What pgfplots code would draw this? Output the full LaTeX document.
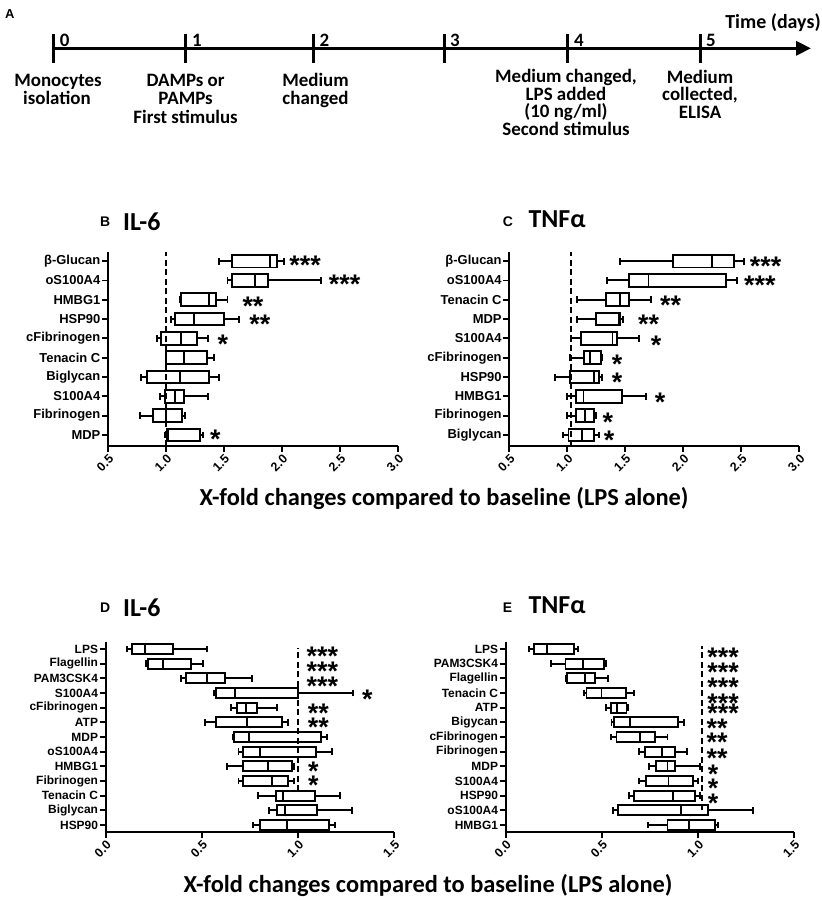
\documentclass[border=0pt]{standalone}
\usepackage{pgfplots}
\pgfplotsset{compat=1.18}
\usepgfplotslibrary{statistics}
\usetikzlibrary{arrows.meta}
\usepackage{fontspec}
\setmainfont{Liberation Sans}
\newfontfamily\calib{Carlito}

% one horizontal box: position, low whisker, Q1, median, Q3, high whisker
\newcommand{\bx}[6]{\addplot[bp, boxplot prepared={draw position=#1,
  lower whisker=#2, lower quartile=#3, median=#4,
  upper quartile=#5, upper whisker=#6}] coordinates {};}

\pgfplotsset{
  gp/.style={scale only axis, clip=false, anchor=south west,
    axis x line*=bottom, axis y line*=left,
    axis line style={line width=2bp, -},
    tick style={line width=1.8bp, black},
    tick align=outside, major tick length=6bp,
    yticklabel style={font=\bfseries\fontsize{13}{13}\selectfont, inner sep=1.5bp},
    xticklabel style={font=\bfseries\fontsize{12.5}{12.5}\selectfont, rotate=45,
      anchor=north east, inner sep=1bp},
    boxplot/draw direction=x,
    boxplot/every box/.style={draw=black, line width=1.9bp},
    boxplot/every whisker/.style={draw=black, line width=1.9bp},
    boxplot/every median/.style={draw=black, line width=1.9bp}},
  bp/.style={black, solid, line width=1.9bp},
  ref/.style={black, line width=2bp, dash pattern=on 6bp off 3.5bp},
}
\tikzset{star/.style={font=\bfseries\fontsize{27}{27}\selectfont, anchor=base,
    yshift=-13.5bp, inner sep=0pt}}

\begin{document}
\begin{tikzpicture}
\path[use as bounding box] (0,0) rectangle (822bp,-901bp);

% ---------- A: timeline ----------
\begin{axis}[scale only axis, width=758bp, height=40bp, at={(53bp,-48.3bp)}, anchor=west,
  xmin=0, xmax=5.849, ymin=-1, ymax=1,
  axis x line=middle, axis y line=none,
  axis line style={line width=3.5bp, -{Triangle[length=15bp,width=14bp]}},
  xtick={0,1.023,2.013,3.019,3.968,5}, xticklabels={}, ytick=\empty,
  tick style={line width=3bp, black}, major tick length=29bp, tick align=center]
\addplot[draw=none] coordinates {(0,0) (5,0)};
\end{axis}
\node[anchor=base west, font=\bfseries\fontsize{13}{13}\selectfont, inner sep=0] at (5bp,-18.3bp) {A};
\begin{scope}[every node/.style={anchor=base, inner sep=0, font=\calib\bfseries\fontsize{19}{19}\selectfont}]
\node at (64.7bp,-46.7bp) {0};
\node at (197bp,-46.7bp) {1};
\node at (324.5bp,-46.7bp) {2};
\node at (455bp,-46.7bp) {3};
\node at (579bp,-46.7bp) {4};
\node at (711bp,-46.7bp) {5};
\node[font=\calib\bfseries\fontsize{20}{20}\selectfont] at (773bp,-28.3bp) {Time (days)};
\end{scope}
\begin{scope}[every node/.style={anchor=base, inner sep=0, font=\calib\bfseries\fontsize{19}{19}\selectfont}]
\node at (58bp,-86bp) {Monocytes};
\node at (57bp,-104bp) {isolation};
\node at (185.6bp,-86bp) {DAMPs or};
\node at (185.6bp,-104bp) {PAMPs};
\node at (185.6bp,-123bp) {First stimulus};
\node at (315.5bp,-86bp) {Medium};
\node at (315.5bp,-104bp) {changed};
\node at (566bp,-82.7bp) {Medium changed,};
\node at (566bp,-100bp) {LPS added};
\node at (566bp,-117bp) {(10 ng/ml)};
\node at (566bp,-135bp) {Second stimulus};
\node at (700bp,-83bp) {Medium};
\node at (700bp,-100bp) {collected,};
\node at (700bp,-118bp) {ELISA};
\end{scope}

% ---------- titles ----------
\begin{scope}[every node/.style={anchor=base west, inner sep=0}]
\node[font=\bfseries\fontsize{14}{14}\selectfont] at (100bp,-226.7bp) {B};
\node[font=\calib\bfseries\fontsize{26}{26}\selectfont] at (123bp,-230bp) {IL-6};
\node[font=\bfseries\fontsize{14}{14}\selectfont] at (502.7bp,-226.7bp) {C};
\node[font=\calib\bfseries\fontsize{26}{26}\selectfont] at (528.3bp,-227.3bp) {TNFα};
\node[font=\bfseries\fontsize{14}{14}\selectfont] at (100bp,-612bp) {D};
\node[font=\calib\bfseries\fontsize{26}{26}\selectfont] at (123bp,-616bp) {IL-6};
\node[font=\bfseries\fontsize{14}{14}\selectfont] at (502.7bp,-612bp) {E};
\node[font=\calib\bfseries\fontsize{26}{26}\selectfont] at (528.3bp,-613bp) {TNFα};
\end{scope}
\node[font=\calib\bfseries\fontsize{24.5}{24.5}\selectfont, anchor=base] at (444bp,-505bp) {X-fold changes compared to baseline (LPS alone)};
\node[font=\calib\bfseries\fontsize{24.5}{24.5}\selectfont, anchor=base] at (428bp,-892bp) {X-fold changes compared to baseline (LPS alone)};

% ---------- B: IL-6 ----------
\begin{axis}[gp, at={(108bp,-446bp)}, width=290bp, height=194bp,
  xmin=0.5, xmax=3, ymin=-0.57, ymax=9.47,
  xtick={0.5,1,1.5,2,2.5,3}, xticklabels={0.5,1.0,1.5,2.0,2.5,3.0},
  ytick={0,...,9},
  yticklabels={MDP,Fibrinogen,S100A4,Biglycan,Tenacin C,cFibrinogen,HSP90,HMBG1,oS100A4,β-Glucan},
  boxplot/box extend=0.66, boxplot/whisker extend=0.36]
\addplot[ref] coordinates {(1,-0.57) (1,9.47)};
\bx{9}{1.457}{1.57}{1.90}{1.955}{2.02}
\bx{8}{1.53}{1.57}{1.77}{1.88}{2.34}
\bx{7}{1.12}{1.13}{1.37}{1.43}{1.53}
\bx{6}{1.04}{1.08}{1.24}{1.50}{1.63}
\bx{5}{0.92}{0.96}{1.13}{1.27}{1.36}
\bx{4}{1.0}{1.0}{1.155}{1.35}{1.41}
\bx{3}{0.785}{0.84}{1.12}{1.37}{1.46}
\bx{2}{0.95}{0.99}{1.08}{1.155}{1.365}
\bx{1}{0.776}{0.89}{1.0}{1.135}{1.16}
\bx{0}{0.99}{1.01}{1.02}{1.29}{1.32}
\node[star] at (axis cs:2.20,9) {***};
\node[star] at (axis cs:2.54,8) {***};
\node[star] at (axis cs:1.75,6.9) {**};
\node[star] at (axis cs:1.81,5.95) {**};
\node[star] at (axis cs:1.49,4.9) {*};
\node[star] at (axis cs:1.425,0) {*};
\end{axis}

% ---------- C: TNFa ----------
\begin{axis}[gp, at={(509.3bp,-446bp)}, width=290bp, height=194bp,
  xmin=0.5, xmax=3, ymin=-0.57, ymax=9.47,
  xtick={0.5,1,1.5,2,2.5,3}, xticklabels={0.5,1.0,1.5,2.0,2.5,3.0},
  ytick={0,...,9},
  yticklabels={Biglycan,Fibrinogen,HMBG1,HSP90,cFibrinogen,S100A4,MDP,Tenacin C,oS100A4,β-Glucan},
  boxplot/box extend=0.66, boxplot/whisker extend=0.36]
\addplot[ref] coordinates {(1.03,-0.57) (1.03,9.47)};
\bx{9}{1.454}{1.914}{2.245}{2.44}{2.52}
\bx{8}{1.34}{1.53}{1.70}{2.37}{2.46}
\bx{7}{1.08}{1.33}{1.454}{1.53}{1.72}
\bx{6}{1.086}{1.245}{1.446}{1.454}{1.48}
\bx{5}{1.03}{1.115}{1.39}{1.425}{1.615}
\bx{4}{1.02}{1.145}{1.196}{1.29}{1.30}
\bx{3}{0.894}{1.02}{1.23}{1.27}{1.30}
\bx{2}{1.0}{1.075}{1.14}{1.475}{1.675}
\bx{1}{1.0}{1.075}{1.15}{1.23}{1.25}
\bx{0}{0.965}{1.01}{1.125}{1.23}{1.27}
\node[star] at (axis cs:2.71,8.95) {***};
\node[star] at (axis cs:2.66,7.95) {***};
\node[star] at (axis cs:1.89,6.95) {**};
\node[star] at (axis cs:1.70,5.93) {**};
\node[star] at (axis cs:1.765,4.88) {*};
\node[star] at (axis cs:1.43,3.9) {*};
\node[star] at (axis cs:1.43,2.95) {*};
\node[star] at (axis cs:1.80,1.9) {*};
\node[star] at (axis cs:1.35,0.88) {*};
\node[star] at (axis cs:1.36,-0.05) {*};
\end{axis}

% ---------- D: IL-6 ----------
\begin{axis}[gp, at={(105.7bp,-832bp)}, width=288.6bp, height=190.3bp,
  xmin=0, xmax=1.5, ymin=-0.48, ymax=12.5,
  xtick={0,0.5,1,1.5}, xticklabels={0.0,0.5,1.0,1.5},
  ytick={0,...,12},
  yticklabels={HSP90,Biglycan,Tenacin C,Fibrinogen,HMBG1,oS100A4,MDP,ATP,cFibrinogen,S100A4,PAM3CSK4,Flagellin,LPS},
  yticklabel style={font=\bfseries\fontsize{12}{12}\selectfont},
  boxplot/box extend=0.68, boxplot/whisker extend=0.45]
\addplot[ref] coordinates {(1,2.3) (1,12.07)};
\bx{12}{0.112}{0.135}{0.204}{0.348}{0.528}
\bx{11}{0.209}{0.222}{0.296}{0.442}{0.507}
\bx{10}{0.391}{0.416}{0.525}{0.62}{0.759}
\bx{9}{0.565}{0.572}{0.672}{0.998}{1.287}
\bx{8}{0.65}{0.684}{0.729}{0.785}{0.889}
\bx{7}{0.516}{0.573}{0.733}{0.915}{0.949}
\bx{6}{0.663}{0.668}{0.747}{1.119}{1.149}
\bx{5}{0.69}{0.715}{0.802}{1.091}{1.175}
\bx{4}{0.629}{0.712}{0.845}{0.967}{0.98}
\bx{3}{0.69}{0.715}{0.866}{0.946}{0.98}
\bx{2}{0.793}{0.887}{0.92}{1.088}{1.218}
\bx{1}{0.85}{0.889}{0.932}{1.097}{1.278}
\bx{0}{0.767}{0.802}{0.944}{1.162}{1.192}
\node[star] at (axis cs:1.126,11.79) {***};
\node[star] at (axis cs:1.126,10.77) {***};
\node[star] at (axis cs:1.126,9.75) {***};
\node[star] at (axis cs:1.36,8.86) {*};
\node[star] at (axis cs:1.105,7.9) {**};
\node[star] at (axis cs:1.105,6.95) {**};
\node[star] at (axis cs:1.079,3.97) {*};
\node[star] at (axis cs:1.079,2.98) {*};
\end{axis}

% ---------- E: TNFa ----------
\begin{axis}[gp, at={(505.7bp,-832bp)}, width=288.6bp, height=190.3bp,
  xmin=0, xmax=1.5, ymin=-0.48, ymax=12.5,
  xtick={0,0.5,1,1.5}, xticklabels={0.0,0.5,1.0,1.5},
  ytick={0,...,12},
  yticklabels={HMBG1,oS100A4,HSP90,S100A4,MDP,Fibrinogen,cFibrinogen,Bigycan,ATP,Tenacin C,Flagellin,PAM3CSK4,LPS},
  yticklabel style={font=\bfseries\fontsize{12}{12}\selectfont},
  boxplot/box extend=0.68, boxplot/whisker extend=0.45]
\addplot[ref] coordinates {(1.018,1.0) (1.018,12.2)};
\bx{12}{0.121}{0.147}{0.213}{0.355}{0.377}
\bx{11}{0.235}{0.311}{0.40}{0.512}{0.519}
\bx{10}{0.313}{0.317}{0.412}{0.464}{0.533}
\bx{9}{0.407}{0.42}{0.498}{0.625}{0.668}
\bx{8}{0.521}{0.547}{0.58}{0.628}{0.637}
\bx{7}{0.55}{0.564}{0.645}{0.896}{0.927}
\bx{6}{0.547}{0.576}{0.697}{0.775}{0.841}
\bx{5}{0.694}{0.725}{0.813}{0.879}{0.94}
\bx{4}{0.746}{0.779}{0.841}{0.879}{1.009}
\bx{3}{0.693}{0.728}{0.846}{0.975}{1.0}
\bx{2}{0.642}{0.668}{0.87}{0.985}{1.01}
\bx{1}{0.557}{0.585}{0.909}{1.05}{1.284}
\bx{0}{0.741}{0.841}{0.953}{1.087}{1.104}
\node[star] at (axis cs:1.13,11.75) {***};
\node[star] at (axis cs:1.13,10.68) {***};
\node[star] at (axis cs:1.13,9.66) {***};
\node[star] at (axis cs:1.13,8.6) {***};
\node[star] at (axis cs:1.13,7.93) {***};
\node[star] at (axis cs:1.099,6.9) {**};
\node[star] at (axis cs:1.099,5.96) {**};
\node[star] at (axis cs:1.099,4.87) {**};
\node[star] at (axis cs:1.078,3.73) {*};
\node[star] at (axis cs:1.078,2.77) {*};
\node[star] at (axis cs:1.078,1.75) {*};
\end{axis}
\end{tikzpicture}
\end{document}
